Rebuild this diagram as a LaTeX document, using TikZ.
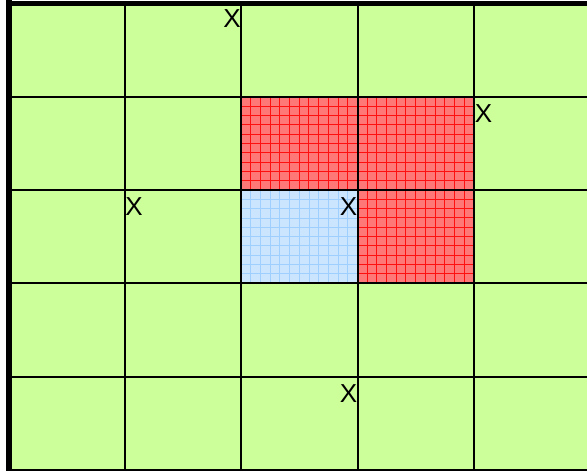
\documentclass[tikz,border=0pt]{standalone}
\usepackage{fontspec}
\setmainfont{Liberation Sans}
\definecolor{cellgreen}{HTML}{CCFF99}
\definecolor{cellred}{HTML}{FF7878}
\definecolor{gridred}{HTML}{FF1010}
\definecolor{cellblue}{HTML}{CCE5FF}
\definecolor{gridblue}{HTML}{9FCFFF}
\tikzset{
  mark label/.style={font=\fontsize{26}{26}\selectfont, inner sep=0pt, text=black},
  gridline/.style={line width=2.7pt, black},
  redcell/.style={fill=cellred},
  bluecell/.style={fill=cellblue}
}
\begin{document}
\begin{tikzpicture}[x=1pt,y=-1pt]
\useasboundingbox (0,0) rectangle (587,471);
\fill[white] (0,0) rectangle (587,471);
\fill[cellgreen] (9,3) rectangle (587,470);
% red cells
\fill[redcell] (241,97) rectangle (474,190);
\fill[redcell] (358,190) rectangle (474,283);
\begin{scope}
  \clip (241,97) rectangle (474,190) (358,190) rectangle (474,283);
  \foreach \x in {250.7,260.4,...,474} \draw[gridred, line width=1pt] (\x,97) -- (\x,283);
  \foreach \y in {106.3,115.6,...,283} \draw[gridred, line width=1pt] (241,\y) -- (474,\y);
\end{scope}
% blue cell
\fill[bluecell] (241,190) rectangle (358,283);
\begin{scope}
  \clip (241,190) rectangle (358,283);
  \foreach \x in {250.7,260.4,...,358} \draw[gridblue, line width=0.8pt] (\x,190) -- (\x,283);
  \foreach \y in {199.3,208.6,...,283} \draw[gridblue, line width=0.8pt] (241,\y) -- (358,\y);
\end{scope}
% grid lines
\foreach \x in {125,241,358,474} \draw[gridline] (\x,3) -- (\x,470);
\foreach \y in {97,190,283,377} \draw[gridline] (9,\y) -- (587,\y);
\draw[line width=3pt] (9,470) -- (587,470);
\draw[line width=5pt] (6,3.5) -- (587,3.5);
\draw[line width=6pt] (9,0) -- (9,471);
% labels
\node[mark label] (x1) at (232,18.5) {X};
\node[mark label] (x2) at (483.5,113.5) {X};
\node[mark label] (x3) at (134,206.5) {X};
\node[mark label] (x4) at (348.5,206.5) {X};
\node[mark label] (x5) at (348.5,393.5) {X};
\end{tikzpicture}
\end{document}
